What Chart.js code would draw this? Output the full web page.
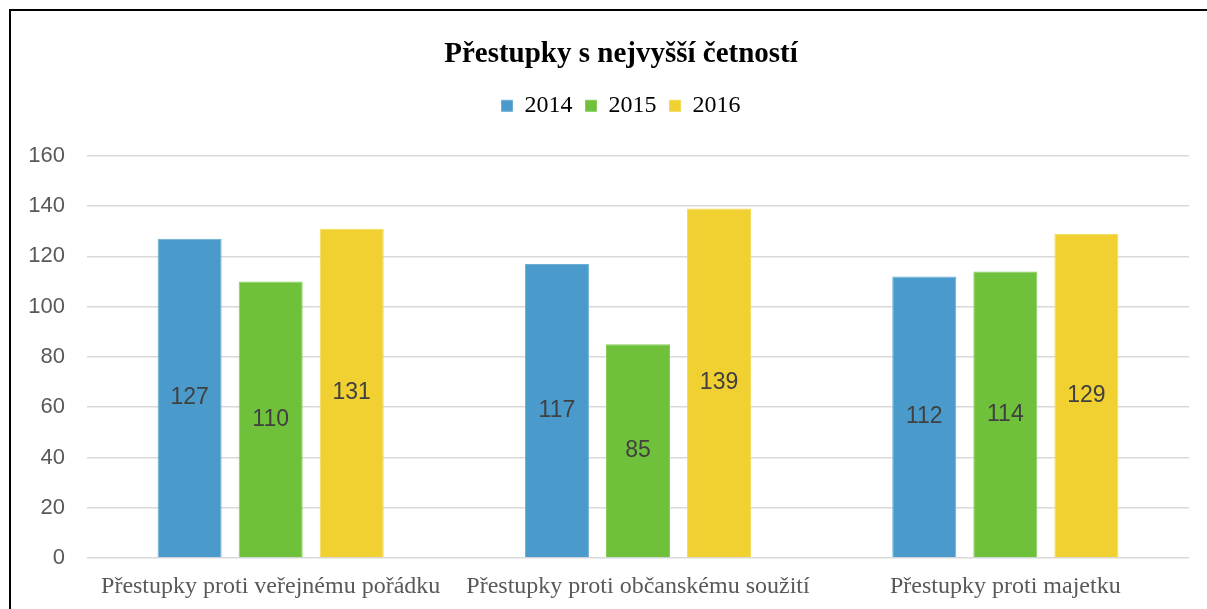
<!DOCTYPE html>
<html>
<head>
<meta charset="utf-8">
<script src="https://cdn.jsdelivr.net/npm/chart.js@4.4.1/dist/chart.umd.min.js"></script>
<style>
  html, body { margin: 0; padding: 0; background: #ffffff; overflow: hidden; }
  #wrap { position: relative; width: 1207px; height: 609px; overflow: hidden; background: #fff; }
  #frame { position: absolute; left: 9px; top: 9px; right: -10px; bottom: -10px; border-left: 2px solid #000; border-top: 2px solid #000; pointer-events: none; }
  canvas { position: absolute; left: 0; top: 0; }
</style>
</head>
<body>
<div id="wrap">
  <canvas id="c" width="1215" height="609"></canvas>
  <div id="frame"></div>
</div>
<script>
const categories = ['Přestupky proti veřejnému pořádku', 'Přestupky proti občanskému soužití', 'Přestupky proti majetku'];
const years = ['2014', '2015', '2016'];
const values2014 = [127, 117, 112];
const values2015 = [110, 85, 114];
const values2016 = [131, 139, 129];
const yTicks = [0, 20, 40, 60, 80, 100, 120, 140, 160];

const seriesColors = ['#4a9bcb', '#6fc13b', '#f0d131'];
const seriesBorders = ['#6aaed6', '#87cc5a', '#f3da55'];

const barLabels = {
  id: 'barLabels',
  afterDatasetsDraw(chart) {
    const ctx = chart.ctx;
    ctx.save();
    ctx.font = '23px "Liberation Sans", Arial, sans-serif';
    ctx.fillStyle = '#404040';
    ctx.textAlign = 'center';
    ctx.textBaseline = 'middle';
    chart.data.datasets.forEach((ds, di) => {
      const meta = chart.getDatasetMeta(di);
      meta.data.forEach((el, i) => {
        const p = el.getProps(['x', 'y', 'base'], true);
        ctx.fillText(String(ds.data[i]), p.x, (p.y + p.base) / 2);
      });
    });
    ctx.restore();
  }
};

const legendGap = {
  id: 'legendGap',
  beforeInit(chart) {
    const lg = chart.legend;
    if (!lg) return;
    const origFit = lg.fit;
    lg.fit = function () {
      origFit.call(this);
      this.height += 28;
    };
  }
};

new Chart(document.getElementById('c'), {
  type: 'bar',
  data: {
    labels: categories,
    datasets: [
      { label: years[0], data: values2014, backgroundColor: seriesColors[0], borderColor: seriesBorders[0], borderWidth: 1 },
      { label: years[1], data: values2015, backgroundColor: seriesColors[1], borderColor: seriesBorders[1], borderWidth: 1 },
      { label: years[2], data: values2016, backgroundColor: seriesColors[2], borderColor: seriesBorders[2], borderWidth: 1 }
    ]
  },
  options: {
    responsive: false,
    animation: false,
    devicePixelRatio: 1,
    layout: { padding: { left: 27, right: 0, top: 0, bottom: 7 } },
    datasets: { bar: { categoryPercentage: 0.662, barPercentage: 0.79 } },
    plugins: {
      title: {
        display: true,
        text: 'Přestupky s nejvyšší četností',
        color: '#000000',
        font: { family: '"Liberation Serif", "Times New Roman", serif', size: 29, weight: 'bold' },
        padding: { top: 37, bottom: 9 }
      },
      legend: {
        display: true,
        position: 'top',
        labels: {
          color: '#000000',
          font: { family: '"Liberation Serif", "Times New Roman", serif', size: 24 },
          boxWidth: 11,
          boxHeight: 11,
          padding: 13
        }
      },
      tooltip: { enabled: false }
    },
    scales: {
      x: {
        grid: { display: false, drawTicks: false },
        border: { display: false },
        afterFit(scale) { scale.paddingLeft = 0; scale.paddingRight = 0; scale.height = 44; },
        ticks: {
          color: '#595959',
          font: { family: '"Liberation Serif", "Times New Roman", serif', size: 24 },
          padding: 14,
          maxRotation: 0,
          autoSkip: false
        }
      },
      y: {
        min: yTicks[0],
        max: yTicks[yTicks.length - 1],
        afterBuildTicks(scale) { scale.ticks = yTicks.map(v => ({ value: v })); },
        afterFit(scale) { scale.width = 60; },
        grid: { color: '#d9d9d9', lineWidth: 1.5, drawTicks: false },
        border: { display: false },
        ticks: {
          color: '#595959',
          font: { family: '"Liberation Sans", Arial, sans-serif', size: 22 },
          padding: 22
        }
      },
      yRight: {
        type: 'linear',
        axis: 'y',
        position: 'right',
        min: 0,
        max: 1,
        afterFit(scale) { scale.width = 26; },
        grid: { drawOnChartArea: false, drawTicks: false, display: false },
        border: { display: false },
        ticks: { display: false }
      }
    }
  },
  plugins: [barLabels, legendGap]
});
</script>
</body>
</html>
